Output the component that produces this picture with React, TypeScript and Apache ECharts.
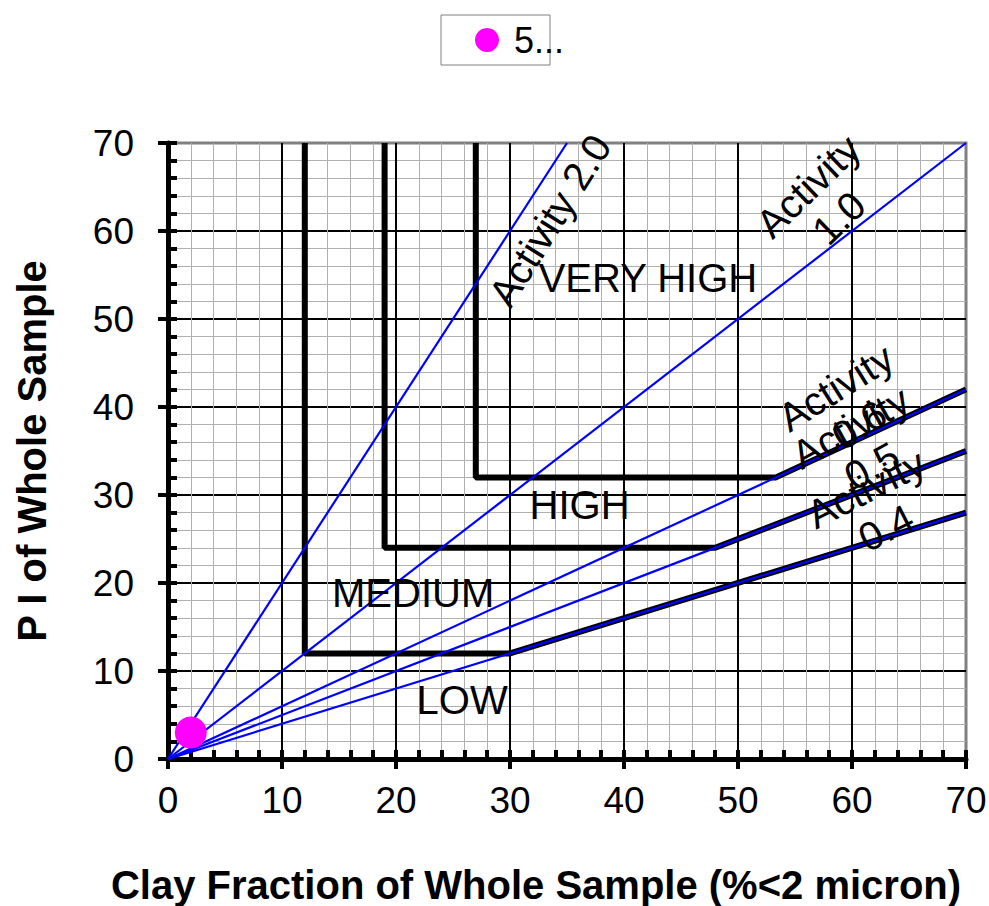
import React, { useEffect, useRef } from "react";
import * as echarts from "echarts";

// ---- data ----
const axisMin = 0;
const axisMax = 70;
const majorStep = 10;

// activity lines from origin (clay %, PI)
const activity20 = [[0, 0], [35, 70]];
const activity10 = [[0, 0], [70, 70]];
const activity06 = [[0, 0], [70, 42]];
const activity05 = [[0, 0], [70, 35]];
const activity04 = [[0, 0], [70, 28]];

// zone boundaries (thick black)
const boundaryLowMedium = [[12, 70], [12, 12], [30, 12], [70, 28]];
const boundaryMediumHigh = [[19, 70], [19, 24], [48, 24], [70, 35]];
const boundaryHighVeryHigh = [[27, 70], [27, 32], [53.33, 32], [70, 42]];

// sample point
const sampleName = "5...";
const samplePoints = [[2, 3]];

// zone + line labels: [x, y], text, rotation
const zoneLabelPos = [[42.1, 54.7], [36.1, 28.9], [21.5, 18.9], [25.8, 6.7]];
const zoneLabelText = ["VERY HIGH", "HIGH", "MEDIUM", "LOW"];
const activityLabelPos = [[33.5, 61.2], [57.5, 63.3], [59.6, 40.1], [60.8, 35.5], [62.1, 28.5]];
const activityLabelText = ["Activity 2.0", "Activity\n1.0", "Activity\n0.6", "Activity\n0.5", "Activity\n0.4"];
const activityLabelRot = [58, 44, 32, 29, 27];

const FONT = "'Liberation Sans', Arial, sans-serif";

export default function App() {
  const ref = useRef<HTMLDivElement>(null);
  useEffect(() => {
    document.body.style.margin = "0";
    const chart = echarts.init(ref.current!, null, { renderer: "svg" });

    const valueAxisBase = {
      type: "value",
      min: axisMin,
      max: axisMax,
      interval: majorStep,
    };

    const blueLine = (name: string, data: number[][]) => ({
      name,
      type: "line",
      data,
      symbol: "none",
      silent: true,
      z: 4,
      lineStyle: { color: "#0000FF", width: 2.2 },
    });
    const blackLine = (name: string, data: number[][]) => ({
      name,
      type: "line",
      data,
      symbol: "none",
      silent: true,
      z: 3,
      lineStyle: { color: "#000000", width: 6 },
    });

    const labelData = [
      ...zoneLabelPos.map((p, i) => ({
        value: p,
        label: { formatter: zoneLabelText[i], rotate: 0 },
      })),
      ...activityLabelPos.map((p, i) => ({
        value: p,
        label: { formatter: activityLabelText[i], rotate: activityLabelRot[i] },
      })),
    ];

    chart.setOption({
      animation: false,
      backgroundColor: "#ffffff",
      textStyle: { fontFamily: FONT },
      legend: {
        data: [sampleName],
        left: 441,
        top: 15,
        borderColor: "#808080",
        borderWidth: 1,
        padding: [7, -14, 7, 34],
        itemWidth: 24,
        itemHeight: 24,
        icon: "circle",
        selectedMode: false,
        textStyle: {
          fontSize: 36,
          color: "#000",
          fontFamily: FONT,
          padding: [0, 0, 0, 10],
        },
      },
      grid: {
        left: 168,
        right: 23,
        top: 143,
        bottom: 147,
        outerBoundsMode: "none",
        containLabel: false,
        show: true,
        borderColor: "#808080",
        borderWidth: 3,
        backgroundColor: "transparent",
      },
      xAxis: [
        {
          ...valueAxisBase,
          position: "bottom",
          name: "Clay Fraction of Whole Sample (%<2 micron)",
          nameLocation: "middle",
          nameGap: 106,
          nameTextStyle: {
            fontSize: 40,
            fontWeight: "bold",
            color: "#000",
            fontFamily: FONT,
            padding: [0, 62, 0, 0],
          },
          axisLine: { show: true, onZero: false, lineStyle: { color: "#000", width: 5 } },
          axisTick: { show: true, inside: false, length: 10, lineStyle: { color: "#000", width: 4 } },
          axisLabel: { fontSize: 37, color: "#000", margin: 23, fontFamily: FONT },
          splitLine: { show: true, showMinLine: false, showMaxLine: false, lineStyle: { color: "#000", width: 2 } },
          minorTick: { show: false, splitNumber: 5 },
          minorSplitLine: { show: true, lineStyle: { color: "#b0b0b0", width: 1 } },
          z: 2,
        },
        {
          ...valueAxisBase,
          position: "bottom",
          axisLine: { show: false, onZero: false },
          axisLabel: { show: false },
          splitLine: { show: false },
          axisTick: { show: true, inside: true, length: 9, lineStyle: { color: "#000", width: 4 } },
          minorTick: { show: true, splitNumber: 5, length: 9, lineStyle: { color: "#000", width: 4 } },
          z: 2,
        },
      ],
      yAxis: [
        {
          ...valueAxisBase,
          position: "left",
          name: "P I of Whole Sample",
          nameLocation: "middle",
          nameGap: 116,
          nameTextStyle: { fontSize: 40, fontWeight: "bold", color: "#000", fontFamily: FONT },
          axisLine: { show: true, onZero: false, lineStyle: { color: "#000", width: 5 } },
          axisTick: { show: true, inside: false, length: 10, lineStyle: { color: "#000", width: 4 } },
          axisLabel: { fontSize: 37, color: "#000", margin: 34, fontFamily: FONT },
          splitLine: { show: true, showMinLine: false, showMaxLine: false, lineStyle: { color: "#000", width: 2 } },
          minorTick: { show: false, splitNumber: 5 },
          minorSplitLine: { show: true, lineStyle: { color: "#b0b0b0", width: 1 } },
          z: 2,
        },
        {
          ...valueAxisBase,
          position: "left",
          axisLine: { show: false, onZero: false },
          axisLabel: { show: false },
          splitLine: { show: false },
          axisTick: { show: true, inside: true, length: 9, lineStyle: { color: "#000", width: 4 } },
          minorTick: { show: true, splitNumber: 5, length: 9, lineStyle: { color: "#000", width: 4 } },
          z: 2,
        },
      ],
      series: [
        blackLine("lowMedium", boundaryLowMedium),
        blackLine("mediumHigh", boundaryMediumHigh),
        blackLine("highVeryHigh", boundaryHighVeryHigh),
        blueLine("a20", activity20),
        blueLine("a10", activity10),
        blueLine("a06", activity06),
        blueLine("a05", activity05),
        blueLine("a04", activity04),
        {
          name: "labels",
          type: "scatter",
          data: labelData,
          symbolSize: 0,
          silent: true,
          z: 5,
          itemStyle: { opacity: 1 },
          label: {
            show: true,
            position: "inside",
            fontSize: 40,
            color: "#000",
            opacity: 1,
            fontFamily: FONT,
            lineHeight: 44,
            align: "center",
            verticalAlign: "middle",
          },
        },
        {
          name: sampleName,
          type: "scatter",
          data: samplePoints,
          symbol: "circle",
          symbolSize: 32,
          z: 6,
          itemStyle: { color: "#FF00FF", opacity: 1 },
        },
      ],
    });
    return () => chart.dispose();
  }, []);
  return <div ref={ref} style={{ width: 989, height: 906 }} />;
}
